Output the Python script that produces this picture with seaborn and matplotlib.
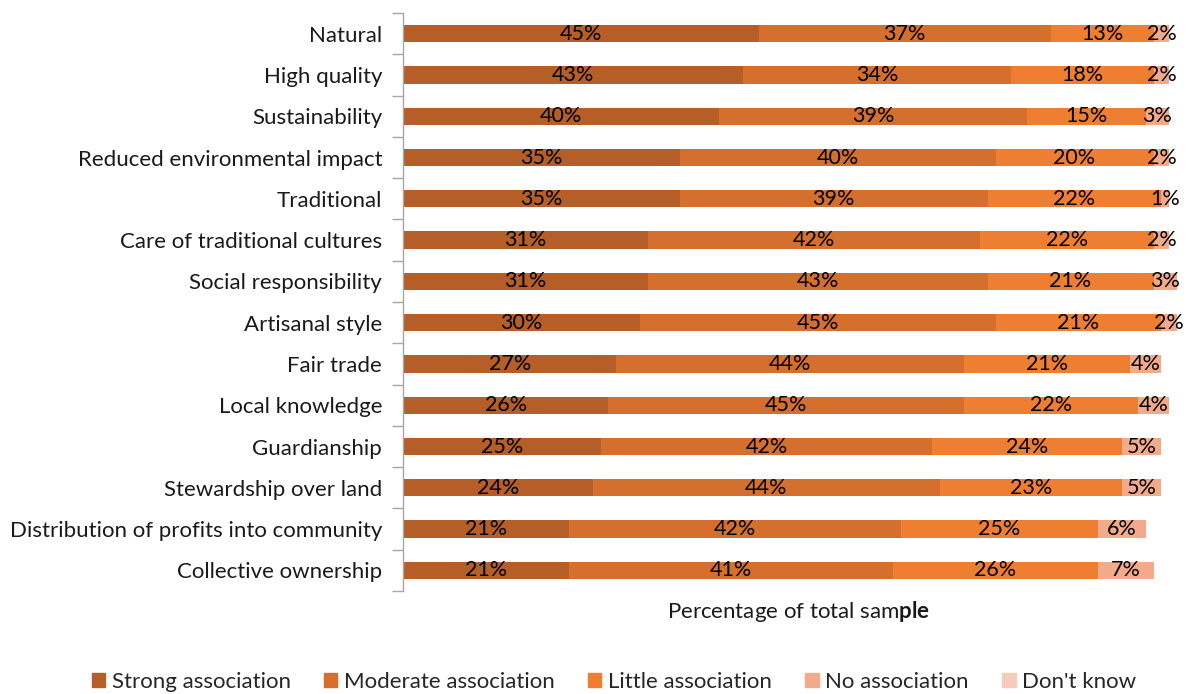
import numpy as np
import pandas as pd
import matplotlib
matplotlib.use("Agg")
import matplotlib.pyplot as plt
import seaborn as sns

categories = ["Natural", "High quality", "Sustainability", "Reduced environmental impact",
              "Traditional", "Care of traditional cultures", "Social responsibility",
              "Artisanal style", "Fair trade", "Local knowledge", "Guardianship",
              "Stewardship over land", "Distribution of profits into community",
              "Collective ownership"]
strong = [45, 43, 40, 35, 35, 31, 31, 30, 27, 26, 25, 24, 21, 21]
moderate = [37, 34, 39, 40, 39, 42, 43, 45, 44, 45, 42, 44, 42, 41]
little = [13, 18, 15, 20, 22, 22, 21, 21, 21, 22, 24, 23, 25, 26]
no_assoc = [2, 2, 3, 2, 1, 2, 3, 2, 4, 4, 5, 5, 6, 7]
dont_know = [0, 0, 0, 0, 0, 0, 0, 0, 0, 0, 0, 0, 0, 0]
series_names = ["Strong association", "Moderate association", "Little association",
                "No association", "Don't know"]
colors = ["#B55E27", "#D46F2D", "#EE7F32", "#F2AA8A", "#F7CBB9"]

sns.set_theme(style="white")
plt.rcParams["font.family"] = ["Lato", "DejaVu Sans"]
plt.rcParams["mathtext.fontset"] = "custom"
plt.rcParams["mathtext.rm"] = "Lato"
plt.rcParams["mathtext.bf"] = "Lato:bold"

series = [strong, moderate, little, no_assoc, dont_know]
df = pd.DataFrame({"category": categories})
cum = np.zeros(len(categories))
cums = []
for name, vals in zip(series_names, series):
    cum = cum + np.array(vals, dtype=float)
    df[name] = cum
    cums.append(cum.copy())

W, H = 1197, 694
fig = plt.figure(figsize=(W / 100, H / 100), dpi=100)
px_per = 7.9
left_px, right_px = 403, 1190
ax = fig.add_axes([left_px / W, 1 - 591 / H, (right_px - left_px) / W, (591 - 13) / H])

# draw cumulative bars from the last series back to the first
for name, col in reversed(list(zip(series_names, colors))):
    sns.barplot(data=df, x=name, y="category", color=col, width=0.42,
                saturation=1, ax=ax, orient="h", label=name, linewidth=0,
                edgecolor=col)

ax.set_xlim(0, (right_px - left_px) / px_per)
ax.set_ylim(len(categories) - 0.5, -0.5)

# data labels
for k in range(4):
    vals = np.array(series[k], dtype=float)
    start = cums[k] - vals
    for i, v in enumerate(vals):
        if v > 0:
            ax.text(start[i] + v / 2, i, f"{int(v)}%", ha="center", va="center",
                    fontsize=15.5, color="black")

for s in ["top", "right", "bottom"]:
    ax.spines[s].set_visible(False)
ax.spines["left"].set_color("#A6A6A6")
ax.spines["left"].set_linewidth(1.0)
ax.set_xticks([])
ax.set_yticks(np.arange(len(categories)))
ax.set_yticklabels(categories, fontsize=16, color="#1a1a1a")
ax.tick_params(axis="y", which="major", length=0, pad=15)
ax.set_yticks(np.arange(-0.5, len(categories) + 0.5, 1.0), minor=True)
ax.tick_params(axis="y", which="minor", length=8, color="#A6A6A6", width=1.0, left=True)
ax.set_ylabel("")
ax.set_xlabel("")

fig.text(799 / W, 1 - 612 / H, r"Percentage of total sam$\bf{ple}$", ha="center",
         va="center", fontsize=16, color="#1a1a1a")

if ax.get_legend() is not None:
    ax.get_legend().remove()
handles = [plt.Rectangle((0, 0), 1, 1, color=c) for c in colors]
fig.legend(handles, series_names, loc="center", bbox_to_anchor=(614 / W, 1 - 682 / H),
           ncol=5, frameon=False, fontsize=16, handlelength=0.6, handleheight=0.6,
           handletextpad=0.3, columnspacing=1.5)

fig.savefig("out.png", dpi=100)
